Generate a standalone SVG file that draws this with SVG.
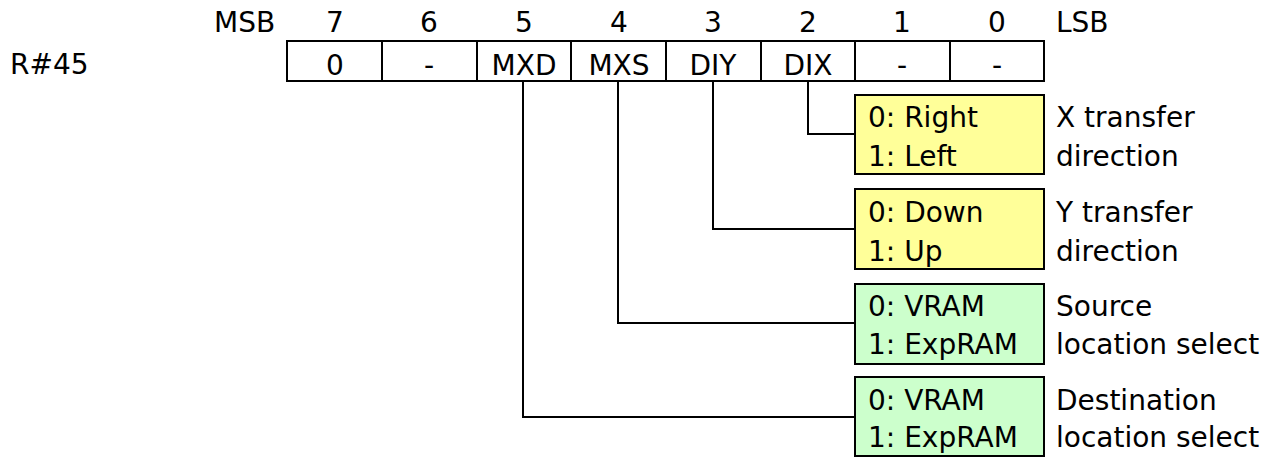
<svg xmlns="http://www.w3.org/2000/svg" width="1279" height="458" viewBox="0 0 1279 458">
<style>
text{font-family:"DejaVu Sans","Verdana",sans-serif;font-size:28px;fill:#000}
.c{text-anchor:middle}
.ln{fill:none;stroke:#000;stroke-width:2}
.y{fill:#FFFF99;stroke:#000;stroke-width:2}
.g{fill:#CCFFCC;stroke:#000;stroke-width:2}
</style>
<rect width="1279" height="458" fill="#fff"/>
<g id="header">
<text x="214" y="32">MSB</text>
<text class="c" x="335" y="32">7</text>
<text class="c" x="429" y="32">6</text>
<text class="c" x="524" y="32">5</text>
<text class="c" x="619" y="32">4</text>
<text class="c" x="713" y="32">3</text>
<text class="c" x="808" y="32">2</text>
<text class="c" x="902" y="32">1</text>
<text class="c" x="997" y="32">0</text>
<text x="1056" y="32">LSB</text>
</g>
<g id="register">
<text x="10" y="74">R#45</text>
<rect class="ln" x="287" y="41" width="757" height="40"/>
<path class="ln" d="M382 41V81M477 41V81M571 41V81M666 41V81M761 41V81M855 41V81M950 41V81"/>
<text class="c" x="335" y="75">0</text>
<text class="c" x="429" y="75">-</text>
<text class="c" x="524" y="75">MXD</text>
<text class="c" x="619" y="75">MXS</text>
<text class="c" x="713" y="75">DIY</text>
<text class="c" x="808" y="75">DIX</text>
<text class="c" x="902" y="75">-</text>
<text class="c" x="997" y="75">-</text>
</g>
<g id="connectors">
<path class="ln" d="M808 81V134H855"/>
<path class="ln" d="M713 81V229H855"/>
<path class="ln" d="M618 81V323H855"/>
<path class="ln" d="M523 81V417H855"/>
</g>
<g id="dix">
<rect class="y" x="855" y="95" width="189" height="79"/>
<text x="868" y="127">0: Right</text>
<text x="868" y="166">1: Left</text>
<text x="1056" y="127">X transfer</text>
<text x="1056" y="166">direction</text>
</g>
<g id="diy">
<rect class="y" x="855" y="189" width="189" height="80"/>
<text x="868" y="222">0: Down</text>
<text x="868" y="261">1: Up</text>
<text x="1056" y="222">Y transfer</text>
<text x="1056" y="261">direction</text>
</g>
<g id="mxs">
<rect class="g" x="855" y="284" width="189" height="80"/>
<text x="868" y="316">0: VRAM</text>
<text x="868" y="354">1: ExpRAM</text>
<text x="1056" y="316">Source</text>
<text x="1056" y="354">location select</text>
</g>
<g id="mxd">
<rect class="g" x="855" y="377" width="189" height="79"/>
<text x="868" y="410">0: VRAM</text>
<text x="868" y="447">1: ExpRAM</text>
<text x="1056" y="410">Destination</text>
<text x="1056" y="447">location select</text>
</g>
</svg>
